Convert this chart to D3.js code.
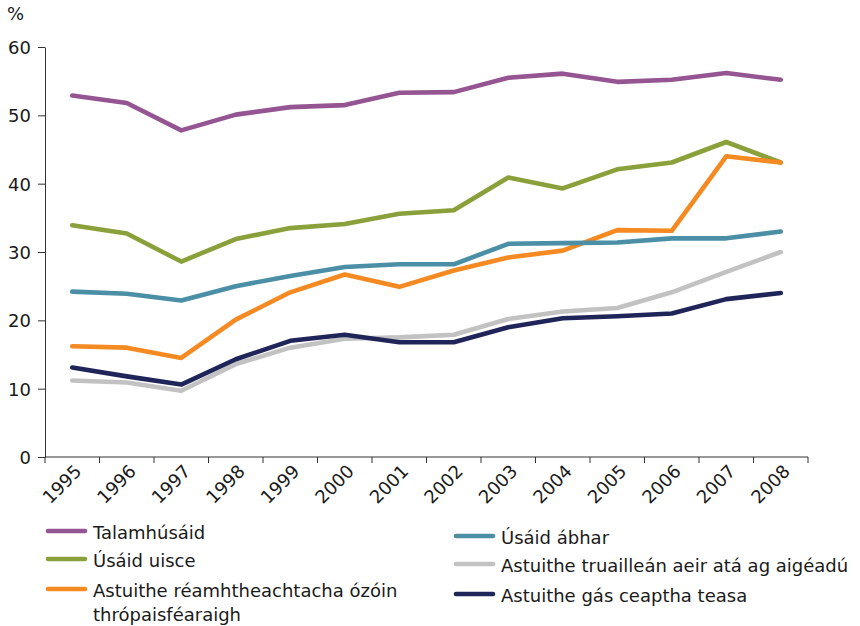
<!DOCTYPE html>
<html>
<head>
<meta charset="utf-8">
<script src="https://cdn.jsdelivr.net/npm/d3@7"></script>
<style>
  body { margin: 0; background: #fff; }
  text { font-family: "DejaVu Sans", Verdana, sans-serif; fill: #1a1a1a; }
</style>
</head>
<body>
<div id="chart"></div>
<script>
const years = ["1995","1996","1997","1998","1999","2000","2001","2002","2003","2004","2005","2006","2007","2008"];
const yTicks = [0, 10, 20, 30, 40, 50, 60];

const talamhusaid = [52.9, 51.8, 47.8, 50.1, 51.2, 51.5, 53.3, 53.4, 55.5, 56.1, 54.9, 55.2, 56.2, 55.2];
const usaidUisce  = [33.9, 32.7, 28.6, 31.9, 33.5, 34.1, 35.6, 36.1, 40.9, 39.3, 42.1, 43.1, 46.1, 43.1];
const ozoin       = [16.2, 16.0, 14.5, 20.1, 24.1, 26.7, 24.9, 27.3, 29.2, 30.2, 33.2, 33.1, 44.0, 43.1];
const usaidAbhar  = [24.2, 23.9, 22.9, 25.0, 26.5, 27.8, 28.2, 28.2, 31.2, 31.3, 31.4, 32.0, 32.0, 33.0];
const aigeadu     = [11.2, 10.9,  9.7, 13.6, 16.0, 17.3, 17.5, 17.9, 20.2, 21.3, 21.8, 24.1, 27.1, 30.0];
const ceapthaTeasa= [13.1, 11.8, 10.6, 14.3, 17.0, 17.9, 16.8, 16.8, 19.0, 20.3, 20.6, 21.0, 23.1, 24.0];

const series = [
  {name: "Talamhúsáid", values: talamhusaid, color: "#955592"},
  {name: "Úsáid uisce", values: usaidUisce, color: "#8aa03a"},
  {name: "Astuithe réamhtheachtacha ózóin|thrópaisféaraigh", values: ozoin, color: "#f58a22"},
  {name: "Úsáid ábhar", values: usaidAbhar, color: "#4a8fa6"},
  {name: "Astuithe truailleán aeir atá ag aigéadú", values: aigeadu, color: "#c2c2c2"},
  {name: "Astuithe gás ceaptha teasa", values: ceapthaTeasa, color: "#1f2559"}
];

const width = 860, height = 626;
const margin = {top: 47, left: 45, right: 52, bottom: 169};
const fs = "18px";

const svg = d3.select("#chart").append("svg")
    .attr("width", width)
    .attr("height", height);

const x = d3.scaleBand()
    .domain(years)
    .range([margin.left, width - margin.right]);

const y = d3.scaleLinear()
    .domain([0, 60])
    .range([height - margin.bottom, margin.top]);

// y axis
const yAxis = svg.append("g")
    .attr("transform", "translate(" + margin.left + ",0)")
    .call(d3.axisLeft(y).tickValues(yTicks).tickSize(7).tickPadding(7).tickSizeOuter(0));
yAxis.select(".domain").attr("stroke", "#333");
yAxis.selectAll(".tick line").attr("stroke", "#333");
yAxis.selectAll(".tick text")
    .style("font-size", fs)
    .attr("dy", "0.36em");

// x axis, ticks on band edges
const xAxisG = svg.append("g")
    .attr("transform", "translate(0," + y(0) + ")");
xAxisG.append("line")
    .attr("x1", x.range()[0]).attr("x2", x.range()[1])
    .attr("stroke", "#333");
const edges = years.map(d => x(d)).concat([x.range()[1]]);
xAxisG.selectAll("line.tk")
    .data(edges)
    .enter().append("line")
    .attr("class", "tk")
    .attr("x1", d => d).attr("x2", d => d)
    .attr("y1", 0).attr("y2", 6)
    .attr("stroke", "#333");
xAxisG.selectAll("text")
    .data(years)
    .enter().append("text")
    .attr("transform", d => "translate(" + (x(d) + x.bandwidth() / 2 + 6) + ",11) rotate(-45)")
    .attr("text-anchor", "end")
    .attr("dy", "0.35em")
    .style("font-size", fs)
    .text(d => d);

svg.append("text")
    .attr("x", 7).attr("y", 20)
    .style("font-size", fs)
    .text("%");

// lines
const line = d3.line()
    .x((d, i) => x(years[i]) + x.bandwidth() / 2)
    .y(d => y(d));

svg.append("g").selectAll("path")
    .data(series)
    .enter().append("path")
    .attr("d", d => line(d.values))
    .attr("fill", "none")
    .attr("stroke", d => d.color)
    .attr("stroke-width", 4.6)
    .attr("stroke-linecap", "round")
    .attr("stroke-linejoin", "round");

// legend
const legendPos = [
  {x: 48, y: 531}, {x: 48, y: 559}, {x: 48, y: 589},
  {x: 456, y: 536}, {x: 456, y: 564}, {x: 456, y: 594}
];
const legend = svg.append("g").selectAll("g")
    .data(series)
    .enter().append("g")
    .attr("transform", (d, i) => "translate(" + legendPos[i].x + "," + legendPos[i].y + ")");
legend.append("line")
    .attr("x1", 0).attr("x2", 37)
    .attr("stroke", d => d.color)
    .attr("stroke-width", 4.6)
    .attr("stroke-linecap", "round");
legend.each(function(d) {
  const parts = d.name.split("|");
  const t = d3.select(this).append("text")
      .attr("x", 45)
      .attr("y", 8)
      .style("font-size", fs);
  parts.forEach((p, k) => {
    t.append("tspan")
      .attr("x", 45)
      .attr("dy", k === 0 ? 0 : 24)
      .text(p);
  });
});
</script>
</body>
</html>
